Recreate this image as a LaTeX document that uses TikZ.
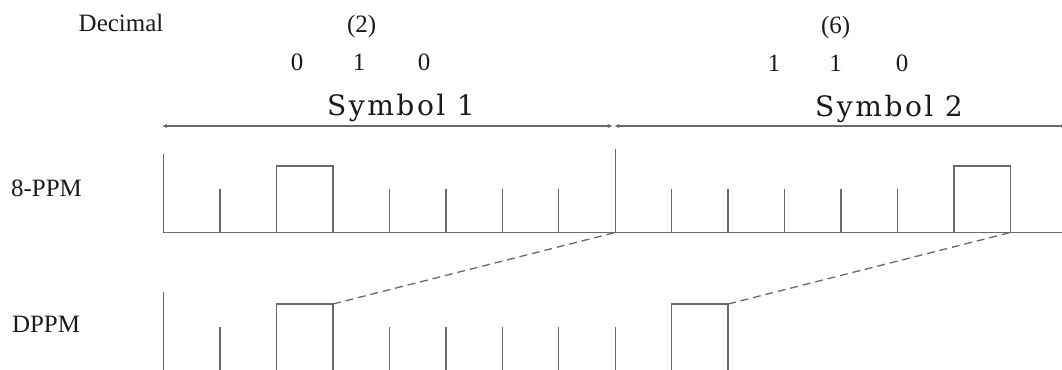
\documentclass[tikz,border=0pt]{standalone}
\usepackage{fontspec}
\setmainfont{Liberation Serif}
\newfontfamily\symbolfont[LetterSpace=9]{DejaVu Serif}
\usetikzlibrary{arrows.meta}
\definecolor{wavegray}{HTML}{6A6A6A}
\definecolor{inkgray}{HTML}{1A1A1A}

\begin{document}
\begin{tikzpicture}[x=0.02cm, y=-0.02cm, font=\fontsize{14.2}{16}\selectfont,
  pulse/.style={draw=wavegray, line width=0.75pt},
  guide/.style={draw=wavegray, line width=0.75pt, dash pattern=on 4.5pt off 2.8pt},
  span/.style={draw=wavegray, line width=0.75pt,
               {Stealth[length=2.8pt,width=2.4pt]}-{Stealth[length=2.8pt,width=2.4pt]}},
  lbl/.style={anchor=base, inner sep=0pt, text=inkgray},
  symlabel/.style={lbl, font=\symbolfont\fontsize{16}{18}\selectfont}]
  \useasboundingbox (0,0) rectangle (1062,369);
  \clip (0,0) rectangle (1062,369);

  % labels
  \node[lbl] (dec) at (121,31.7) {Decimal};
  \node[lbl] (val1) at (361.7,32.5) {(2)};
  \node[lbl] (b1a) at (297,70) {0};
  \node[lbl] (b1b) at (359,70) {1};
  \node[lbl] (b1c) at (424,70) {0};
  \node[lbl] (val2) at (835.7,33.5) {(6)};
  \node[lbl] (b2a) at (774,71.7) {1};
  \node[lbl] (b2b) at (835.7,71.7) {1};
  \node[lbl] (b2c) at (902,71.7) {0};
  \node[symlabel] (sym1) at (401,115.5) {Symbol 1};
  \node[symlabel] (sym2) at (889,116) {Symbol 2};
  \node[lbl] (ppm) at (46.5,196.7) {8-PPM};
  \node[lbl] (dppm) at (46,332.7) {DPPM};

  % symbol spans
  \coordinate (s1l) at (162.5,126);
  \coordinate (s1r) at (612.4,126);
  \coordinate (s2l) at (614.7,126);
  \coordinate (s2r) at (1066,126);
  \draw[span] (s1l) -- (s1r);
  \draw[span] (s2l) -- (s2r);

  % 8-PPM
  \draw[pulse] (163.6,154) -- (163.6,232.5) -- (1062,232.5);
  \draw[pulse] (220.1,189) -- (220.1,232.5);
  \draw[pulse] (276.5,232.5) -- (276.5,166) -- (333,166) -- (333,232.5);
  \draw[pulse] (389.4,189) -- (389.4,232.5);
  \draw[pulse] (445.9,189) -- (445.9,232.5);
  \draw[pulse] (502.3,189) -- (502.3,232.5);
  \draw[pulse] (558.8,189) -- (558.8,232.5);
  \draw[pulse] (615.2,149) -- (615.2,232.5);
  \draw[pulse] (671.7,189) -- (671.7,232.5);
  \draw[pulse] (728.1,189) -- (728.1,232.5);
  \draw[pulse] (784.6,189) -- (784.6,232.5);
  \draw[pulse] (841,189) -- (841,232.5);
  \draw[pulse] (897.5,189) -- (897.5,232.5);
  \draw[pulse] (953.9,232.5) -- (953.9,166) -- (1010.4,166) -- (1010.4,232.5);
  \coordinate (p1end) at (615.2,232.5);
  \coordinate (p2end) at (1010.4,232.5);

  % DPPM
  \draw[pulse] (163.6,292) -- (163.6,372);
  \draw[pulse] (220.1,327) -- (220.1,372);
  \draw[pulse] (276.5,372) -- (276.5,304) -- (333,304) -- (333,372);
  \draw[pulse] (389.4,327) -- (389.4,372);
  \draw[pulse] (445.9,327) -- (445.9,372);
  \draw[pulse] (502.3,327) -- (502.3,372);
  \draw[pulse] (558.8,327) -- (558.8,372);
  \draw[pulse] (615.2,327) -- (615.2,372);
  \draw[pulse] (671.7,372) -- (671.7,304) -- (728.1,304) -- (728.1,372);
  \coordinate (d1end) at (333,304);
  \coordinate (d2end) at (728.1,304);

  % mapping
  \draw[guide] (d1end) -- (p1end);
  \draw[guide] (d2end) -- (p2end);
\end{tikzpicture}
\end{document}
